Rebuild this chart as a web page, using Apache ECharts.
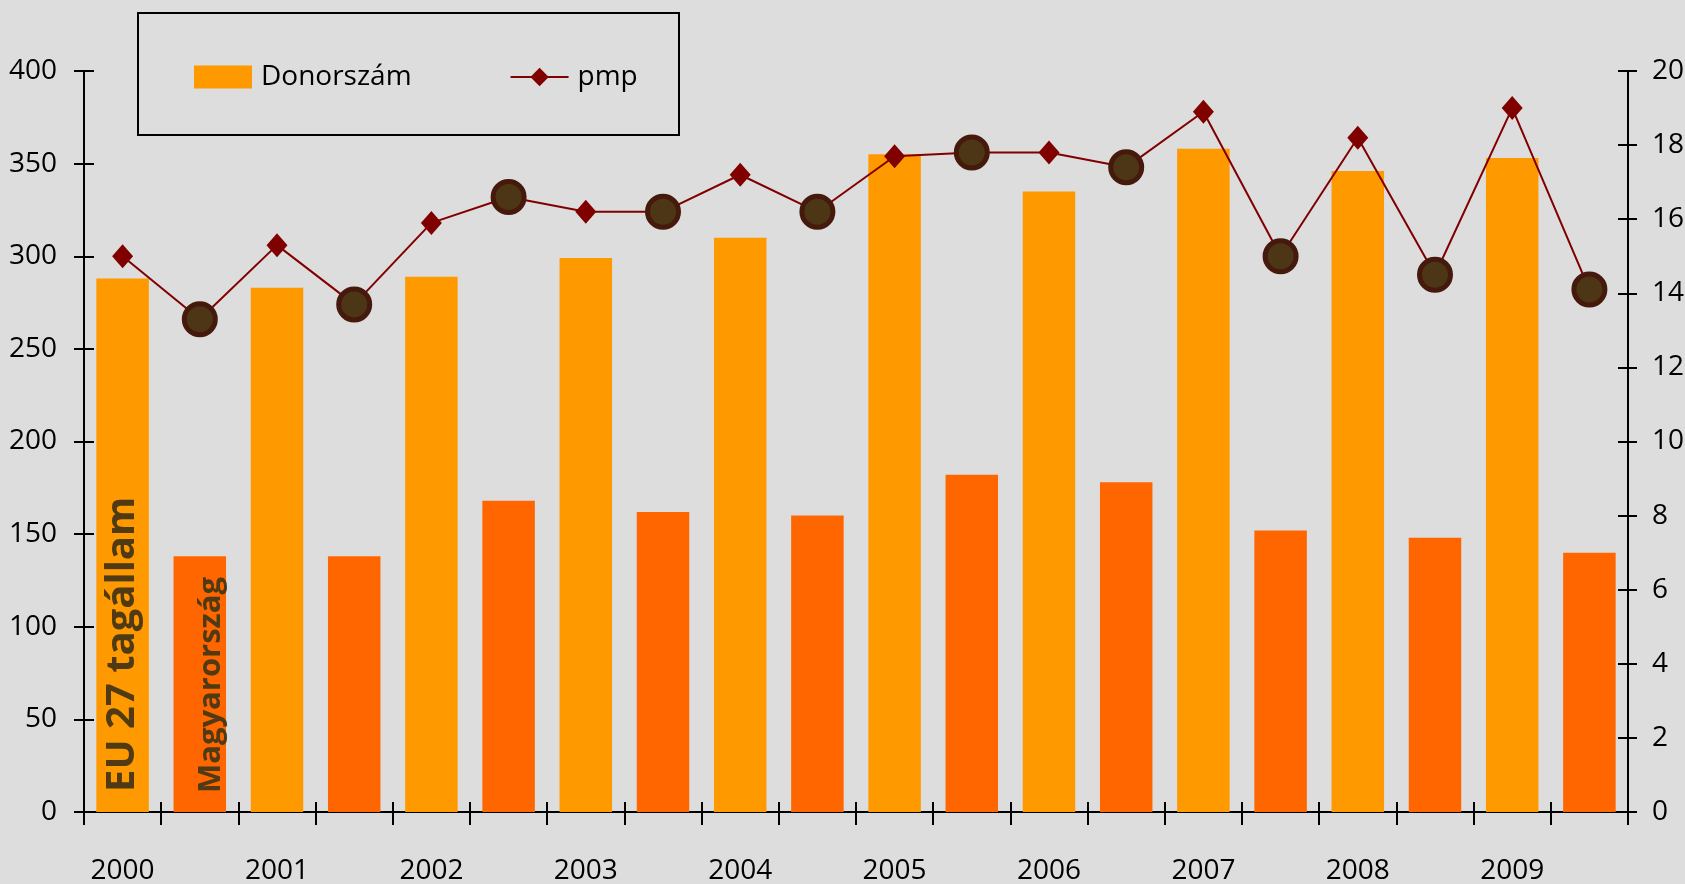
<!DOCTYPE html>
<html lang="hu">
<head>
<meta charset="utf-8">
<title>Donorszám és pmp</title>
<style>
  html, body { margin: 0; padding: 0; background: #dddddd; }
  #chart { width: 1685px; height: 884px; }
</style>
</head>
<body>
<div id="chart"></div>
<script src="https://cdn.jsdelivr.net/npm/echarts@6/dist/echarts.min.js"></script>
<script>
  // values
  var years = ['2000', '2001', '2002', '2003', '2004', '2005', '2006', '2007', '2008', '2009'];
  var donorEu = [288, 283, 289, 299, 310, 355, 335, 358, 346, 353];
  var donorHu = [138, 138, 168, 162, 160, 182, 178, 152, 148, 140];
  var pmpEu = [15.0, 15.3, 15.9, 16.2, 17.2, 17.7, 17.8, 18.9, 18.2, 19.0];
  var pmpHu = [13.3, 13.7, 16.6, 16.2, 16.2, 17.8, 17.4, 15.0, 14.5, 14.1];
  var groupNames = ['EU 27 tagállam', 'Magyarország'];
  var leftTicks = { min: 0, max: 400, step: 50 };
  var rightTicks = { min: 0, max: 20, step: 2 };

  var font = "'Open Sans', sans-serif";
  var colors = {
    eu: '#ff9900', hu: '#ff6600', line: '#800000',
    ring: '#45190c', dot: '#4d3615', text: '#4f3a14'
  };

  var categories = [], barData = [], lineData = [];
  years.forEach(function (y, i) {
    categories.push(y + ' EU', y + ' HU');
    barData.push({ value: donorEu[i] });
    barData.push({ value: donorHu[i], itemStyle: { color: colors.hu } });
    lineData.push({ value: pmpEu[i] });
    lineData.push({
      value: pmpHu[i], symbol: 'circle', symbolSize: 31,
      itemStyle: { color: colors.dot, borderColor: colors.ring, borderWidth: 5 }
    });
  });

  // group names written up the first two bars
  var vertLabel = {
    show: true, position: 'insideBottom', rotate: 90,
    align: 'left', verticalAlign: 'middle',
    fontFamily: font, fontWeight: 'bold', color: colors.text
  };
  barData[0].label = Object.assign({}, vertLabel, { formatter: groupNames[0], fontSize: 40, distance: 20 });
  barData[1].label = Object.assign({}, vertLabel, { formatter: groupNames[1], fontSize: 31, distance: 19, offset: [0, 11] });

  var black = { color: '#000', width: 2 };

  var plot = echarts.init(document.getElementById('chart'));

  option = {
    backgroundColor: '#dddddd',
    animation: false,
    textStyle: { fontFamily: font },
    grid: { left: 84, right: 57, top: 71, bottom: 72, outerBoundsMode: 'none' },
    graphic: [{
      type: 'rect',
      shape: { x: 138, y: 13, width: 541, height: 122 },
      style: { fill: 'none', stroke: '#000', lineWidth: 2 },
      silent: true
    }],
    legend: {
      left: 194,
      top: 63,
      padding: 0,
      itemWidth: 58,
      itemHeight: 23,
      itemGap: 98,
      data: [{ name: 'Donorszám', icon: 'rect' }, { name: 'pmp' }],
      textStyle: { fontSize: 28, color: '#000', fontFamily: font, padding: [0, 0, 0, 4] }
    },
    xAxis: [{
      type: 'category',
      data: categories,
      axisLine: { lineStyle: black },
      axisTick: { show: true, interval: 0, length: 13, lineStyle: black },
      axisLabel: {
        interval: 0, margin: 45, fontSize: 28, color: '#000',
        formatter: function (v) { return v.slice(-2) === 'EU' ? v.slice(0, 4) : ''; }
      },
      splitLine: { show: false }
    }, {
      type: 'category',
      data: categories,
      position: 'bottom',
      axisLine: { show: false },
      axisTick: { show: true, inside: true, interval: 0, length: 10, lineStyle: black },
      axisLabel: { show: false },
      splitLine: { show: false }
    }],
    yAxis: [{
      type: 'value',
      position: 'left',
      min: leftTicks.min, max: leftTicks.max, interval: leftTicks.step,
      axisLine: { show: true, lineStyle: black },
      axisTick: { show: true, length: 10, lineStyle: black },
      axisLabel: { fontSize: 28, color: '#000', margin: 27 },
      splitLine: { show: false }
    }, {
      type: 'value',
      position: 'right',
      min: rightTicks.min, max: rightTicks.max, interval: rightTicks.step,
      axisLine: { show: true, lineStyle: black },
      axisTick: { show: true, length: 9, lineStyle: black },
      axisLabel: { fontSize: 28, color: '#000', margin: 24 },
      splitLine: { show: false }
    }, {
      type: 'value',
      position: 'left',
      min: leftTicks.min, max: leftTicks.max, interval: leftTicks.step,
      axisLine: { show: false },
      axisTick: { show: true, inside: true, length: 10, lineStyle: black },
      axisLabel: { show: false },
      splitLine: { show: false }
    }, {
      type: 'value',
      position: 'right',
      min: rightTicks.min, max: rightTicks.max, interval: rightTicks.step,
      axisLine: { show: false },
      axisTick: { show: true, inside: true, length: 10, lineStyle: black },
      axisLabel: { show: false },
      splitLine: { show: false }
    }],
    series: [{
      name: 'Donorszám',
      type: 'bar',
      barWidth: '68%',
      itemStyle: { color: colors.eu },
      data: barData
    }, {
      name: 'pmp',
      type: 'line',
      yAxisIndex: 1,
      symbol: 'diamond',
      symbolSize: [21, 24],
      showAllSymbol: true,
      itemStyle: { color: colors.line },
      lineStyle: { color: colors.line, width: 2 },
      data: lineData,
      z: 3
    }]
  };
  plot.setOption(option = option);
</script>
</body>
</html>
